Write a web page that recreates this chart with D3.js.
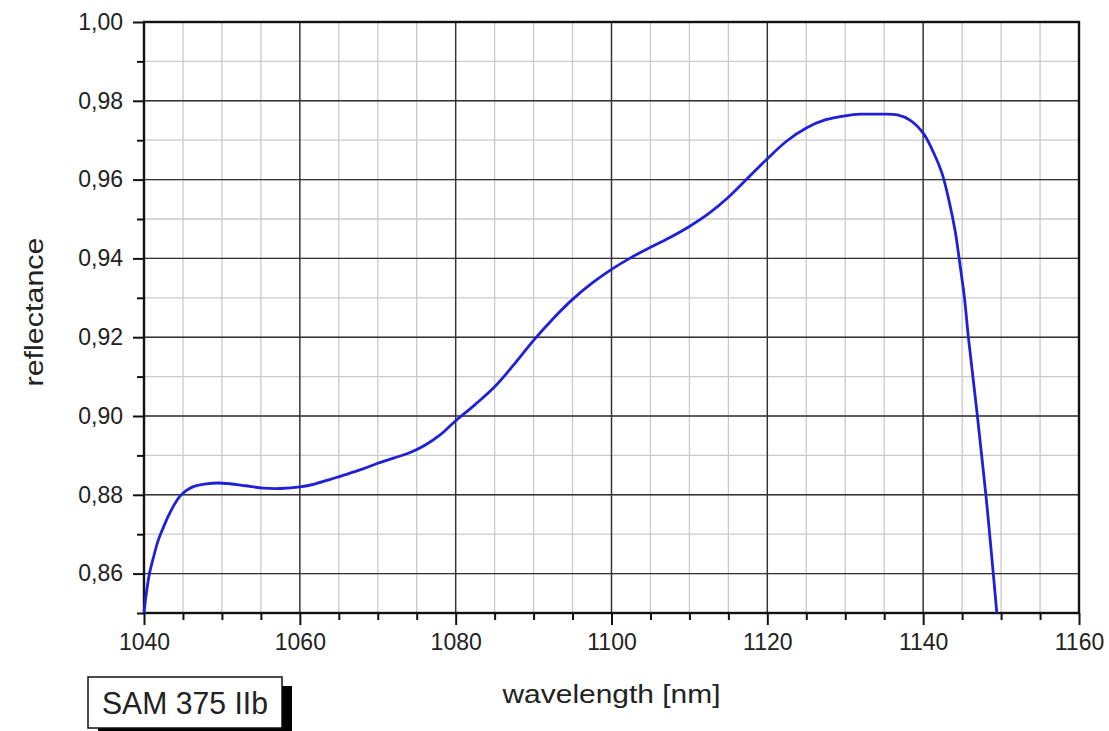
<!DOCTYPE html>
<html>
<head>
<meta charset="utf-8">
<script src="https://cdn.jsdelivr.net/npm/d3@7"></script>
<style>
  body { margin: 0; background: #fff; }
  text { font-family: "Liberation Sans", Arial, sans-serif; fill: #222; }
</style>
</head>
<body>
<svg id="chart" width="1109" height="731"></svg>
<script>
// spectrum
var wavelength = [1040, 1040.3, 1040.7, 1041.2, 1041.8, 1042.5, 1043.1, 1043.8, 1044.6, 1045.5,
  1046.5, 1048, 1049.5, 1051, 1053, 1055.3, 1057.5, 1060, 1062, 1064, 1066, 1068, 1070, 1072,
  1074, 1076, 1078, 1080, 1082.5, 1085, 1087.5, 1090, 1092.5, 1095, 1097.5, 1100, 1102.5, 1105,
  1107.5, 1110, 1112.5, 1115, 1117.5, 1120, 1122.5, 1125, 1127.5, 1130, 1132, 1134.5, 1136.7,
  1138.3, 1140, 1141.3, 1142.4, 1143.3, 1144.1, 1144.7, 1145.3, 1145.8, 1146.96, 1148.05, 1149, 1149.45];
var reflectance = [0.850, 0.855, 0.860, 0.864, 0.8683, 0.8718, 0.8745, 0.8772, 0.8796, 0.8812,
  0.8822, 0.8828, 0.883, 0.8828, 0.8823, 0.8817, 0.8816, 0.882, 0.8828, 0.884, 0.8852, 0.8865, 0.888, 0.8893,
  0.8906, 0.8925, 0.8952, 0.8988, 0.9029, 0.9074, 0.9131, 0.9192, 0.9247, 0.9296, 0.9337, 0.9372, 0.9402, 0.9428,
  0.9453, 0.9481, 0.9514, 0.9555, 0.9604, 0.9653, 0.9698, 0.9731, 0.9752, 0.9762, 0.9766, 0.9766, 0.9764,
  0.9751, 0.9718, 0.967, 0.9617, 0.9548, 0.947, 0.9388, 0.930, 0.920, 0.900, 0.880, 0.860, 0.850];

var xTicks = [1040, 1060, 1080, 1100, 1120, 1140, 1160];
var yTicks = [0.86, 0.88, 0.90, 0.92, 0.94, 0.96, 0.98, 1.00];
var xLabel = "wavelength [nm]";
var yLabel = "reflectance";
var sampleName = "SAM 375 IIb";

var margin = {left: 144, top: 22, right: 1079, bottom: 613};

var svg = d3.select("#chart");

var x = d3.scaleLinear().domain([1040, 1160]).range([margin.left, margin.right]);
var y = d3.scaleLinear().domain([0.85, 1.00]).range([margin.bottom, margin.top]);

var xMinor = d3.range(1040, 1160.1, 5);
var yMinor = d3.range(0, 16).map(function(i){ return 0.85 + i*0.01; });

// minor grid
svg.append("g").selectAll("line").data(xMinor).enter().append("line")
  .attr("x1", d => x(d)).attr("x2", d => x(d))
  .attr("y1", margin.top).attr("y2", margin.bottom)
  .attr("stroke", "#cacaca").attr("stroke-width", 1.3);
svg.append("g").selectAll("line").data(yMinor).enter().append("line")
  .attr("y1", d => y(d)).attr("y2", d => y(d))
  .attr("x1", margin.left).attr("x2", margin.right)
  .attr("stroke", "#cacaca").attr("stroke-width", 1.3);

// major grid
svg.append("g").selectAll("line").data(xTicks).enter().append("line")
  .attr("x1", d => x(d)).attr("x2", d => x(d))
  .attr("y1", margin.top).attr("y2", margin.bottom)
  .attr("stroke", "#333").attr("stroke-width", 1.4);
svg.append("g").selectAll("line").data(yTicks).enter().append("line")
  .attr("y1", d => y(d)).attr("y2", d => y(d))
  .attr("x1", margin.left).attr("x2", margin.right)
  .attr("stroke", "#333").attr("stroke-width", 1.4);

// axes
var fmt = d => d3.format(".2f")(d).replace(".", ",");

var xAxis = svg.append("g").attr("transform", "translate(0," + margin.bottom + ")")
  .call(d3.axisBottom(x).tickValues(xTicks).tickSize(12).tickPadding(9).tickFormat(d3.format("d")));
var xAxisMinor = svg.append("g").attr("transform", "translate(0," + margin.bottom + ")")
  .call(d3.axisBottom(x).tickValues(xMinor.filter(d => d % 20 != 0)).tickSize(7).tickFormat(""));
var yAxis = svg.append("g").attr("transform", "translate(" + margin.left + ",0)")
  .call(d3.axisLeft(y).tickValues(yTicks).tickSize(11).tickPadding(10).tickFormat(fmt));
var yAxisMinor = svg.append("g").attr("transform", "translate(" + margin.left + ",0)")
  .call(d3.axisLeft(y).tickValues(yMinor.filter((d, i) => i % 2 == 0)).tickSize(7).tickFormat(""));

[xAxis, xAxisMinor, yAxis, yAxisMinor].forEach(function(g){
  g.select(".domain").remove();
  g.selectAll(".tick line").attr("stroke", "#111").attr("stroke-width", 2);
  g.selectAll(".tick text").attr("font-size", 23).attr("fill", "#222")
    .attr("font-family", "Liberation Sans, Arial, sans-serif");
});

// frame
svg.append("rect")
  .attr("x", margin.left).attr("y", margin.top)
  .attr("width", margin.right - margin.left).attr("height", margin.bottom - margin.top)
  .attr("fill", "none").attr("stroke", "#111").attr("stroke-width", 2.4);

// curve
var points = wavelength.map((w, i) => [w, reflectance[i]]);
var line = d3.line().x(d => x(d[0])).y(d => y(d[1])).curve(d3.curveCatmullRom.alpha(0.5));
svg.append("path").datum(points)
  .attr("d", line)
  .attr("fill", "none").attr("stroke", "#2020d8").attr("stroke-width", 2.8);

// labels
svg.append("text")
  .attr("x", (margin.left + margin.right) / 2).attr("y", 703)
  .attr("text-anchor", "middle").attr("font-size", 25)
  .attr("textLength", 218).attr("lengthAdjust", "spacingAndGlyphs")
  .text(xLabel);

svg.append("text")
  .attr("transform", "translate(43,312) rotate(-90)")
  .attr("text-anchor", "middle").attr("font-size", 25)
  .attr("textLength", 149).attr("lengthAdjust", "spacingAndGlyphs")
  .text(yLabel);

// sample tag with shadow
svg.append("rect").attr("x", 98).attr("y", 686).attr("width", 194).attr("height", 51).attr("fill", "#000");
svg.append("rect").attr("x", 88).attr("y", 677).attr("width", 194).attr("height", 51)
  .attr("fill", "#fff").attr("stroke", "#111").attr("stroke-width", 1.5);
svg.append("text")
  .attr("x", 185).attr("y", 714)
  .attr("text-anchor", "middle").attr("font-size", 31)
  .attr("textLength", 166).attr("lengthAdjust", "spacingAndGlyphs")
  .text(sampleName);
</script>
</body>
</html>
